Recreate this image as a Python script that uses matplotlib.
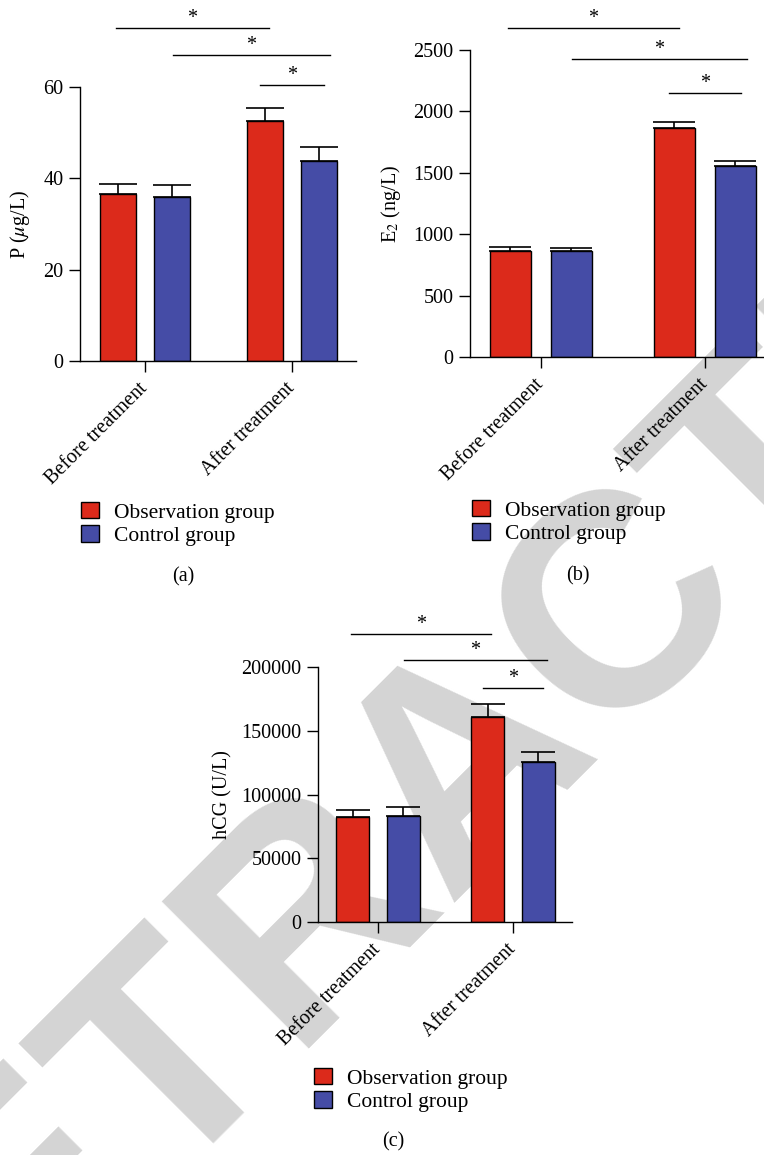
import numpy as np
import matplotlib
matplotlib.use('Agg')
import matplotlib.pyplot as plt
from matplotlib.patches import Patch

plt.rcParams['font.family'] = 'Liberation Serif'
plt.rcParams['mathtext.fontset'] = 'stix'

# data
categories = ['Before treatment', 'After treatment']
groups = ['Observation group', 'Control group']

p_obs = [36.5, 52.5]
p_obs_err = [2.2, 2.9]
p_ctrl = [35.9, 43.8]
p_ctrl_err = [2.6, 3.0]

e2_obs = [863, 1865]
e2_obs_err = [33, 49]
e2_ctrl = [863, 1555]
e2_ctrl_err = [25, 41]

hcg_obs = [82400, 160800]
hcg_obs_err = [5500, 10200]
hcg_ctrl = [83100, 125500]
hcg_ctrl_err = [7100, 7800]

# significance brackets: (start, end) in category units, heights per panel
sig_spans = [(-0.2, 0.84), (0.19, 1.255), (0.78, 1.22)]
p_sig = [72.9, 67.0, 60.4]
e2_sig = [2679, 2427, 2150]
hcg_sig = [225900, 205500, 183500]

RED = '#dc2a1b'
BLUE = '#454ca6'
FS = 14.5
LEG_FS = 15.5

W, H = 764, 1155
fig = plt.figure(figsize=(W / 100, H / 100), dpi=100)
fig.patch.set_facecolor('white')

# watermark behind everything
fig.text(0.683, 0.294, 'RETRACTED', fontsize=218, fontweight='bold',
         family='Liberation Sans', color='#d4d4d4', rotation=45,
         rotation_mode='anchor', ha='center', va='baseline', zorder=-10)


def px_axes(x0, y0, x1, y1):
    return fig.add_axes([x0 / W, 1 - y1 / H, (x1 - x0) / W, (y1 - y0) / H])


def panel(ax, obs, obs_err, ctrl, ctrl_err, ylim, yticks, ylabel, sig, capsize, xlim, label_x):
    x = np.arange(len(categories))
    off, width = 0.186, 0.245
    ax.bar(x - off, obs, width, color=RED, edgecolor='black', linewidth=1, zorder=2)
    ax.bar(x + off, ctrl, width, color=BLUE, edgecolor='black', linewidth=1, zorder=2)
    ax.errorbar(x - off, obs, yerr=[[0, 0], obs_err], fmt='none', ecolor='black',
                elinewidth=1.2, capsize=capsize, capthick=1.2, zorder=1)
    ax.errorbar(x + off, ctrl, yerr=[[0, 0], ctrl_err], fmt='none', ecolor='black',
                elinewidth=1.2, capsize=capsize, capthick=1.2, zorder=1)

    ax.set_xlim(*xlim)
    ax.set_ylim(*ylim)
    ax.set_yticks(yticks)
    ax.set_xticks(x)
    ax.set_xticklabels(categories, rotation=45, ha='right', va='center',
                       rotation_mode='anchor')
    for s in ['top', 'right']:
        ax.spines[s].set_visible(False)
    for s in ['left', 'bottom']:
        ax.spines[s].set_linewidth(1)
    ax.tick_params(axis='both', direction='out', length=8, width=1, labelsize=FS)
    ax.tick_params(axis='y', pad=4)
    ax.tick_params(axis='x', pad=10)
    ax.patch.set_visible(False)

    ax.set_ylabel(ylabel, fontsize=FS)
    ax.yaxis.set_label_coords(label_x, 0.5)

    for (a, b), h in zip(sig_spans, sig):
        ax.plot([a, b], [h, h], color='black', lw=1, clip_on=False)
        ax.text((a + b) / 2, h, '*', ha='center', va='bottom', fontsize=FS, clip_on=False)


ax_a = px_axes(80, 87, 356, 361)
panel(ax_a, p_obs, p_obs_err, p_ctrl, p_ctrl_err, (0, 60), [0, 20, 40, 60],
      r'P ($\mu$g/L)', p_sig, 14, (-0.442, 1.435), -0.174)

ax_b = px_axes(470, 50, 763, 357)
panel(ax_b, e2_obs, e2_obs_err, e2_ctrl, e2_ctrl_err, (0, 2500),
      [0, 500, 1000, 1500, 2000, 2500], r'E$_2$ (ng/L)', e2_sig, 15,
      (-0.433, 1.354), -0.229)

ax_c = px_axes(318, 667, 572, 922)
panel(ax_c, hcg_obs, hcg_obs_err, hcg_ctrl, hcg_ctrl_err, (0, 200000),
      [0, 50000, 100000, 150000, 200000], 'hCG (U/L)', hcg_sig, 12,
      (-0.444, 1.437), -0.335)

handles = [Patch(facecolor=RED, edgecolor='black', linewidth=1),
           Patch(facecolor=BLUE, edgecolor='black', linewidth=1)]
for lx, ly in [(81, 502), (472, 500), (314, 1068)]:
    fig.legend(handles, groups, loc='upper left', bbox_to_anchor=(lx / W, 1 - ly / H),
               frameon=False, fontsize=LEG_FS, handlelength=0.84, handleheight=0.79,
               handletextpad=0.7, labelspacing=0.12, borderpad=0, borderaxespad=0)

for cx, cy, lab in [(183, 577, '(a)'), (578, 576, '(b)'), (393, 1142, '(c)')]:
    fig.text(cx / W, 1 - cy / H, lab, ha='center', va='center', fontsize=FS)

fig.savefig('out.png', dpi=100)
